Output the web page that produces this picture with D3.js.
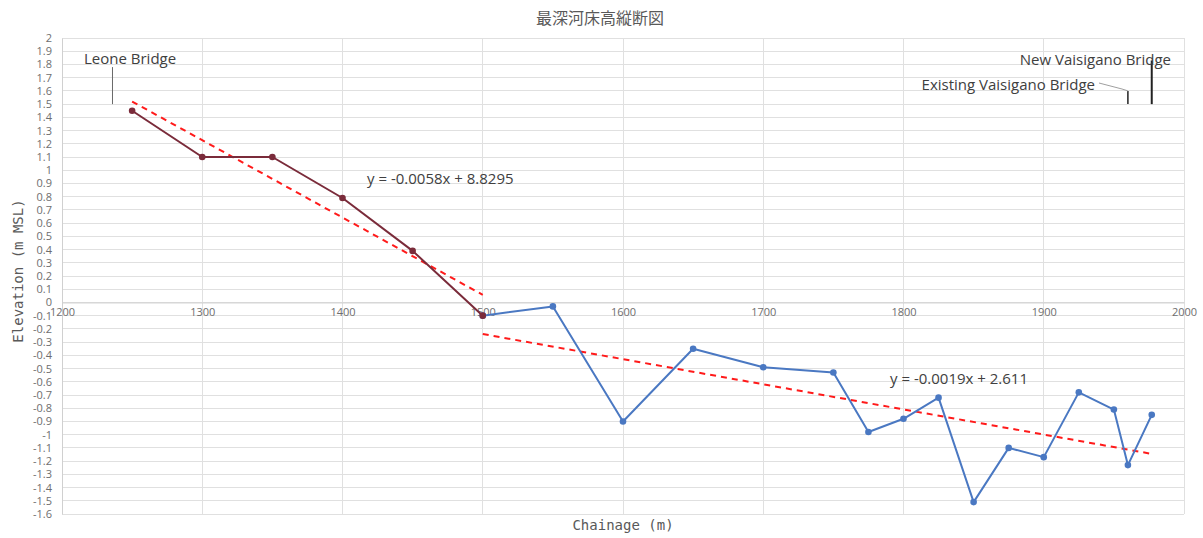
<!DOCTYPE html>
<html>
<head>
<meta charset="utf-8">
<script src="https://cdn.jsdelivr.net/npm/d3@7"></script>
<style>
  html, body { margin: 0; padding: 0; background: #fff; }
  svg { display: block; }
</style>
</head>
<body>
<svg id="chart" width="1203" height="538"></svg>
<script>
// Deepest riverbed elevation profile along the channel
const upstreamChainage = [1250, 1300, 1350, 1400, 1450, 1500];
const upstreamElevation = [1.45, 1.1, 1.1, 0.79, 0.39, -0.1];

const downstreamChainage = [1500, 1550, 1600, 1650, 1700, 1750, 1775, 1800, 1825, 1850, 1875, 1900, 1925, 1950, 1960, 1977];
const downstreamElevation = [-0.1, -0.03, -0.9, -0.35, -0.49, -0.53, -0.98, -0.88, -0.72, -1.51, -1.1, -1.17, -0.68, -0.81, -1.23, -0.85];

// Linear trend fits: [slope, intercept, start, end]
const upstreamTrend = [-0.005848, 8.8295, 1250, 1500];
const downstreamTrend = [-0.0019, 2.611, 1500, 1977];

// Bridge markers: chainage, marker bottom / top elevation
const bridgeNames = ["Leone Bridge", "Existing Vaisigano Bridge", "New Vaisigano Bridge"];
const bridgeChainage = [1236, 1960, 1977];
const bridgeBottom = [1.5, 1.5, 1.5];
const bridgeTop = [1.78, 1.6, 1.83];

const xTicks = [1200, 1300, 1400, 1500, 1600, 1700, 1800, 1900, 2000];
const yTicks = d3.range(-16, 21).map(v => v / 10);

const svg = d3.select("#chart");
const x = d3.scaleLinear().domain([1200, 2000]).range([62, 1184]);
const y = d3.scaleLinear().domain([-1.6, 2]).range([514, 38]);

const labelFont = "'Open Sans', 'Liberation Sans', sans-serif";
const monoFont = "'DejaVu Sans Mono', 'Liberation Mono', monospace";

// Gridlines
svg.append("g").selectAll("line").data(yTicks).join("line")
  .attr("x1", x(1200)).attr("x2", x(2000))
  .attr("y1", d => y(d)).attr("y2", d => y(d))
  .attr("stroke", "#e0e0e0").attr("stroke-width", 1).attr("shape-rendering", "crispEdges");
svg.append("g").selectAll("line").data(xTicks).join("line")
  .attr("x1", d => x(d)).attr("x2", d => x(d))
  .attr("y1", y(2)).attr("y2", y(-1.6))
  .attr("stroke", "#e0e0e0").attr("stroke-width", 1).attr("shape-rendering", "crispEdges");

// Y axis with labels
const yAxis = d3.axisLeft(y).tickValues(yTicks).tickSize(0).tickPadding(10)
  .tickFormat(d => String(+d.toFixed(1)));
const gy = svg.append("g").attr("transform", `translate(${x(1200)},0)`).call(yAxis);
gy.select(".domain").attr("stroke", "#d0d0d0");
gy.selectAll("text").attr("fill", "#6e6e6e").style("font-family", labelFont).style("font-size", "11px");

// X axis crossing at zero elevation
const xAxis = d3.axisBottom(x).tickValues(xTicks).tickSize(0).tickPadding(6).tickFormat(d3.format("d"));
const gx = svg.append("g").attr("transform", `translate(0,${y(0)})`).call(xAxis);
gx.select(".domain").attr("stroke", "#d0d0d0");
gx.selectAll("text").attr("fill", "#6e6e6e").style("font-family", labelFont).style("font-size", "11px");

// Title and axis titles
svg.append("text").attr("x", 600).attr("y", 24).attr("text-anchor", "middle")
  .attr("fill", "#595959").style("font-family", "'Noto Sans CJK JP', sans-serif").style("font-size", "16px")
  .text("最深河床高縦断図");
svg.append("text").attr("x", 623).attr("y", 530).attr("text-anchor", "middle")
  .attr("fill", "#595959").style("font-family", monoFont).style("font-size", "14px")
  .text("Chainage (m)");
svg.append("text").attr("transform", `translate(23,271) rotate(-90)`).attr("text-anchor", "middle")
  .attr("fill", "#595959").style("font-family", monoFont).style("font-size", "14px")
  .text("Elevation (m MSL)");

// Trend lines
function trendPoints(t) {
  return [t[2], t[3]].map(c => [c, t[0] * c + t[1]]);
}
const line = d3.line().x(d => x(d[0])).y(d => y(d[1]));
[upstreamTrend, downstreamTrend].forEach(t => {
  svg.append("path").datum(trendPoints(t)).attr("d", line)
    .attr("fill", "none").attr("stroke", "#ff1a1a").attr("stroke-width", 2)
    .attr("stroke-dasharray", "6,5");
});

// Profile series
function drawSeries(xs, ys, color) {
  const pts = xs.map((c, i) => [c, ys[i]]);
  svg.append("path").datum(pts).attr("d", line)
    .attr("fill", "none").attr("stroke", color).attr("stroke-width", 2).attr("stroke-linejoin", "round");
  svg.append("g").selectAll("circle").data(pts).join("circle")
    .attr("cx", d => x(d[0])).attr("cy", d => y(d[1])).attr("r", 3.3).attr("fill", color);
}
drawSeries(downstreamChainage, downstreamElevation, "#4a78c2");
drawSeries(upstreamChainage, upstreamElevation, "#7a2b3a");

// Trend equations
const eqFmt = t => `y = ${t[0].toFixed(4)}x + ${t[1]}`;
svg.append("text").attr("x", 367).attr("y", 184).attr("fill", "#404040")
  .style("font-family", labelFont).style("font-size", "15px").text(eqFmt(upstreamTrend));
svg.append("text").attr("x", 890).attr("y", 384).attr("fill", "#404040")
  .style("font-family", labelFont).style("font-size", "15px").text(eqFmt(downstreamTrend));

// Bridge markers
const markerStroke = ["#6a6a6a", "#222", "#222"];
const markerWidth = [1, 1.5, 2];
bridgeChainage.forEach((c, i) => {
  svg.append("line").attr("x1", x(c)).attr("x2", x(c))
    .attr("y1", y(bridgeBottom[i])).attr("y2", y(bridgeTop[i]))
    .attr("stroke", markerStroke[i]).attr("stroke-width", markerWidth[i]);
});
svg.append("text").attr("x", 84).attr("y", 64).attr("fill", "#404040")
  .style("font-family", labelFont).style("font-size", "15px").text(bridgeNames[0]);
svg.append("text").attr("x", 1095).attr("y", 90).attr("text-anchor", "end").attr("fill", "#404040")
  .style("font-family", labelFont).style("font-size", "15px").text(bridgeNames[1]);
svg.append("text").attr("x", 1171).attr("y", 65).attr("text-anchor", "end").attr("fill", "#404040")
  .style("font-family", labelFont).style("font-size", "15px").text(bridgeNames[2]);
svg.append("polyline")
  .attr("points", `1099,83 1122,89 ${x(bridgeChainage[1])},${y(bridgeTop[1])}`)
  .attr("fill", "none").attr("stroke", "#a0a0a0").attr("stroke-width", 1);
</script>
</body>
</html>
